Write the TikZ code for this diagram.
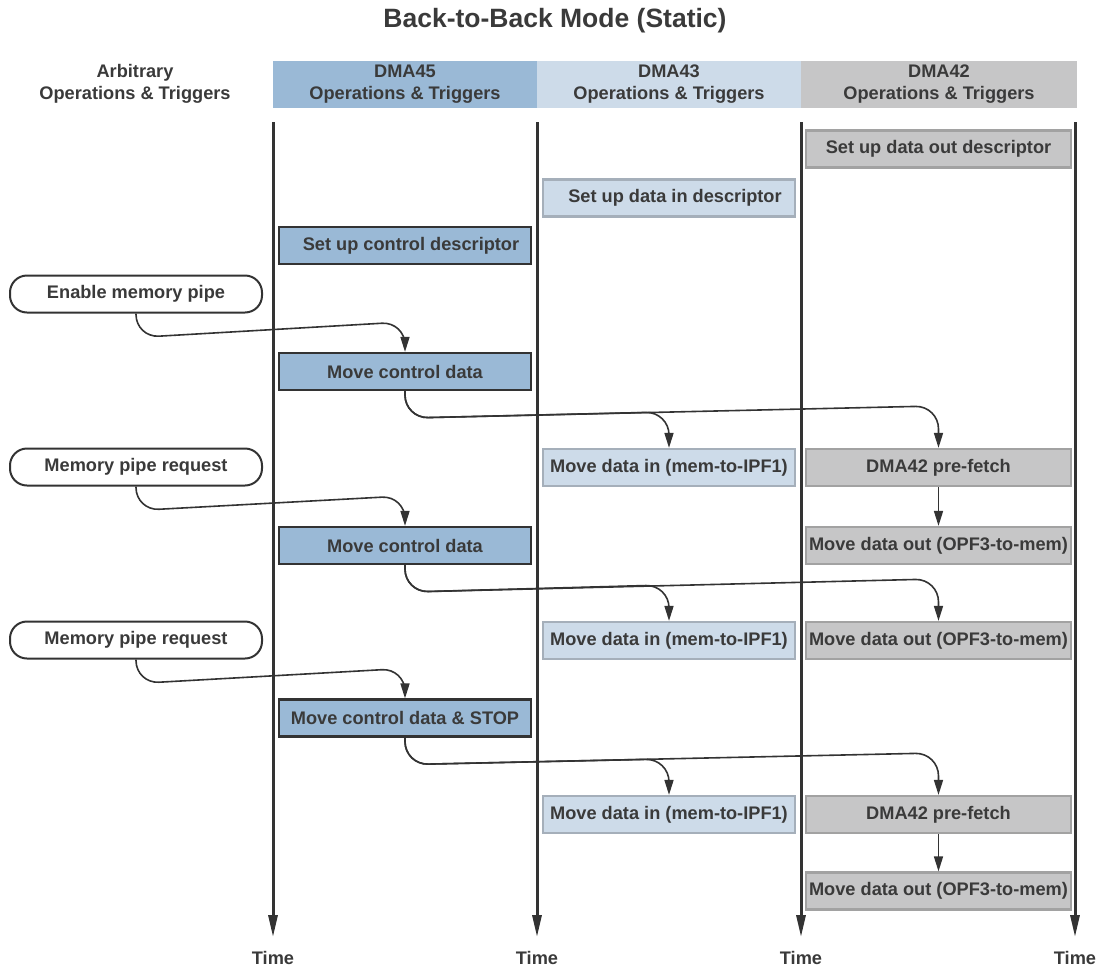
\documentclass[tikz,border=0pt]{standalone}
\usepackage{fontspec}
\setmainfont{Liberation Sans}
\usetikzlibrary{arrows.meta,calc}
\definecolor{dmablue}{HTML}{9AB9D6}
\definecolor{dmalight}{HTML}{CDDBE9}
\definecolor{dmagray}{HTML}{C6C6C7}
\definecolor{linegray}{HTML}{333333}
\definecolor{textgray}{HTML}{3A3A3A}
\definecolor{inborder}{HTML}{A5AFBA}
\definecolor{outborder}{HTML}{A2A2A2}
\newcommand{\boxfont}{\fontsize{18.2}{22}\selectfont\bfseries}

\tikzset{
  lane/.style={line width=3pt,draw=linegray,-{Triangle[length=22pt,width=9pt]}},
  flow/.style={line width=1.6pt,draw=linegray,rounded corners=23pt,
    -{Triangle[length=15pt,width=9pt]}},
  headbar/.style={minimum height=47pt,inner sep=0pt,align=center,font=\boxfont,text=textgray},
  boxbase/.style={rectangle,minimum width=252pt,minimum height=37pt,inner sep=0pt,
    font=\boxfont,text=textgray,line width=2.2pt},
  ctrlbox/.style={boxbase,fill=dmablue,draw=linegray},
  inbox/.style={boxbase,fill=dmalight,draw=inborder},
  outbox/.style={boxbase,fill=dmagray,draw=outborder,minimum width=265pt},
  trigger/.style={boxbase,fill=white,draw=linegray,rounded corners=17pt,line width=2pt},
  timelabel/.style={font=\boxfont,text=textgray,inner sep=2pt}
}

\begin{document}
\begin{tikzpicture}[x=1pt,y=-1pt]
\useasboundingbox (0,0) rectangle (1104,967);

% title and lane headers
\node[font=\fontsize{26.5}{30}\selectfont\bfseries,text=textgray] (title) at (555,21) {Back-to-Back Mode (Static)};
\node[headbar] (harb) at (135,84) {Arbitrary\\Operations \& Triggers};
\node[headbar,fill=dmablue,minimum width=264pt] (h45) at (405,84.5) {DMA45\\Operations \& Triggers};
\node[headbar,fill=dmalight,minimum width=264pt] (h43) at (669,84.5) {DMA43\\Operations \& Triggers};
\node[headbar,fill=dmagray,minimum width=276pt] (h42) at (939,84.5) {DMA42\\Operations \& Triggers};

% time axes
\foreach \lx [count=\i] in {273,537,801,1075}{
  \coordinate (top\i) at (\lx,122);
  \node[timelabel] (time\i) at (\lx,958) {Time};
  \draw[lane,shorten >=12pt] (top\i) -- (time\i.north);
}

% DMA42 lane
\node[outbox] (outdesc) at (938.5,149) {Set up data out descriptor};
\node[outbox] (pf1) at (938.5,467.5) {DMA42 pre-fetch};
\node[outbox] (dout1) at (938.5,545.5) {Move data out (OPF3-to-mem)};
\node[outbox] (dout2) at (938.5,640.5) {Move data out (OPF3-to-mem)};
\node[outbox] (pf2) at (938.5,814.5) {DMA42 pre-fetch};
\node[outbox] (dout3) at (938.5,891) {Move data out (OPF3-to-mem)};

% DMA43 lane
\node[inbox] (indesc) at (669,198) {\hspace{12pt}Set up data in descriptor};
\node[inbox] (din1) at (669,467.5) {Move data in (mem-to-IPF1)};
\node[inbox] (din2) at (669,640.5) {Move data in (mem-to-IPF1)};
\node[inbox] (din3) at (669,814.5) {Move data in (mem-to-IPF1)};

% DMA45 lane
\node[ctrlbox] (ctldesc) at (405,245.5) {\hspace{12pt}Set up control descriptor};
\node[ctrlbox] (mcd1) at (405,371.5) {Move control data};
\node[ctrlbox] (mcd2) at (405,545.5) {Move control data};
\node[ctrlbox] (stop) at (405,718) {Move control data \& STOP};

% arbitrary triggers
\node[trigger] (enable) at (136,294) {Enable memory pipe};
\node[trigger] (req1) at (136,467) {Memory pipe request};
\node[trigger] (req2) at (136,640) {Memory pipe request};

% trigger flow
\draw[flow] (enable.south) -- ++(0,24) -- ($(mcd1.north)+(0,-30)$) -- (mcd1.north);
\draw[flow] (mcd1.south) -- ++(0,27) -- ($(din1.north)+(0,-36)$) -- (din1.north);
\draw[flow] (mcd1.south) -- ++(0,27) -- ($(pf1.north)+(0,-42)$) -- (pf1.north);
\draw[flow] (pf1.south) -- (dout1.north);

\draw[flow] (req1.south) -- ++(0,24) -- ($(mcd2.north)+(0,-30)$) -- (mcd2.north);
\draw[flow] (mcd2.south) -- ++(0,27) -- ($(din2.north)+(0,-36)$) -- (din2.north);
\draw[flow] (mcd2.south) -- ++(0,27) -- ($(dout2.north)+(0,-42)$) -- (dout2.north);

\draw[flow] (req2.south) -- ++(0,24) -- ($(stop.north)+(0,-30)$) -- (stop.north);
\draw[flow] (stop.south) -- ++(0,27) -- ($(din3.north)+(0,-36)$) -- (din3.north);
\draw[flow] (stop.south) -- ++(0,27) -- ($(pf2.north)+(0,-42)$) -- (pf2.north);
\draw[flow] (pf2.south) -- (dout3.north);
\end{tikzpicture}
\end{document}
